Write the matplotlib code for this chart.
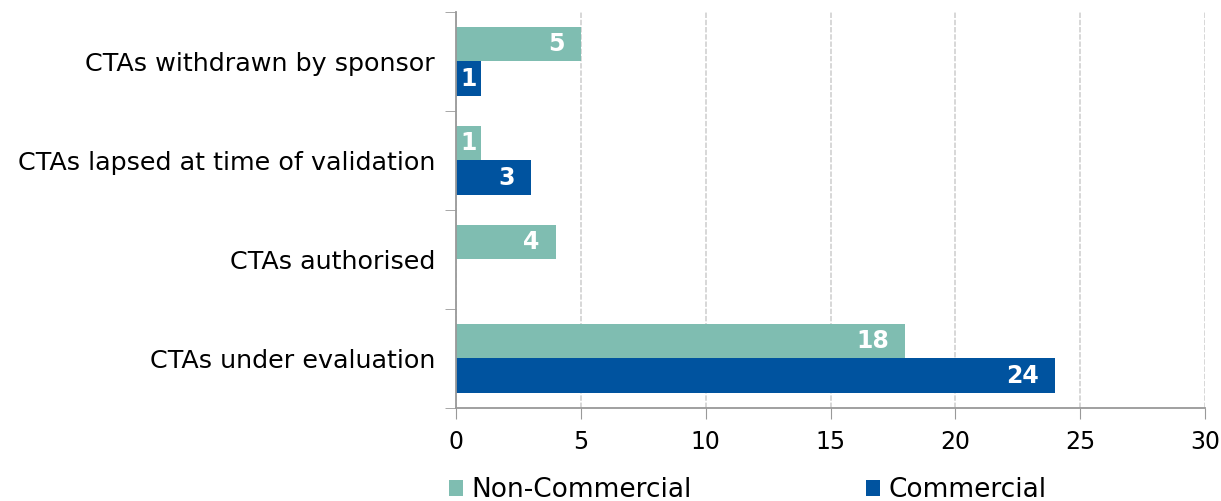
import numpy as np
import matplotlib.pyplot as plt

categories = ["CTAs withdrawn by sponsor", "CTAs lapsed at time of validation",
              "CTAs authorised", "CTAs under evaluation"]
non_commercial = [5, 1, 4, 18]
commercial = [1, 3, 0, 24]

TEAL = "#7fbdb1"
BLUE = "#00539f"

fig = plt.figure(figsize=(12.21, 5.01), dpi=100)
ax = fig.add_axes([0.3735, 0.186, 0.6135, 0.79])

y = np.arange(len(categories))
h = 0.35
b1 = ax.barh(y - h / 2, non_commercial, height=h, color=TEAL, label="Non-Commercial")
b2 = ax.barh(y + h / 2, commercial, height=h, color=BLUE, label="Commercial")

for bars, vals in ((b1, non_commercial), (b2, commercial)):
    for bar, v in zip(bars, vals):
        if v == 0:
            continue
        yc = bar.get_y() + bar.get_height() / 2
        if v <= 1:
            ax.text(v / 2, yc, str(v), ha="center", va="center", color="white",
                    fontsize=17, fontweight="bold")
        else:
            ax.text(v - 0.65, yc, str(v), ha="right", va="center", color="white",
                    fontsize=17, fontweight="bold")

ax.set_ylim(len(categories) - 0.5, -0.5)
ax.set_xlim(0, 30)
ax.set_xticks(range(0, 31, 5))
ax.set_yticks(y)
ax.set_yticklabels(categories)
ax.set_yticks(np.arange(-0.5, len(categories), 1), minor=True)
ax.tick_params(axis="y", which="major", length=0, pad=15, labelsize=18.3)
ax.tick_params(axis="y", which="minor", length=8, color="#999999", direction="out")
ax.tick_params(axis="x", length=8, color="#999999", labelsize=17, pad=8)

ax.grid(axis="x", color="#d4d4d4", linestyle=(0, (3, 1)), linewidth=1.3)
ax.set_axisbelow(True)
for s in ("top", "right"):
    ax.spines[s].set_visible(False)
for s in ("left", "bottom"):
    ax.spines[s].set_color("#999999")
    ax.spines[s].set_linewidth(1.3)

fig.legend(handles=[b1, b2], loc="lower left", bbox_to_anchor=(0.348, -0.052), ncol=2,
           frameon=False, fontsize=19, handlelength=0.55, handleheight=0.55,
           handletextpad=0.3, columnspacing=6.6)

fig.savefig("out.png", dpi=100)
